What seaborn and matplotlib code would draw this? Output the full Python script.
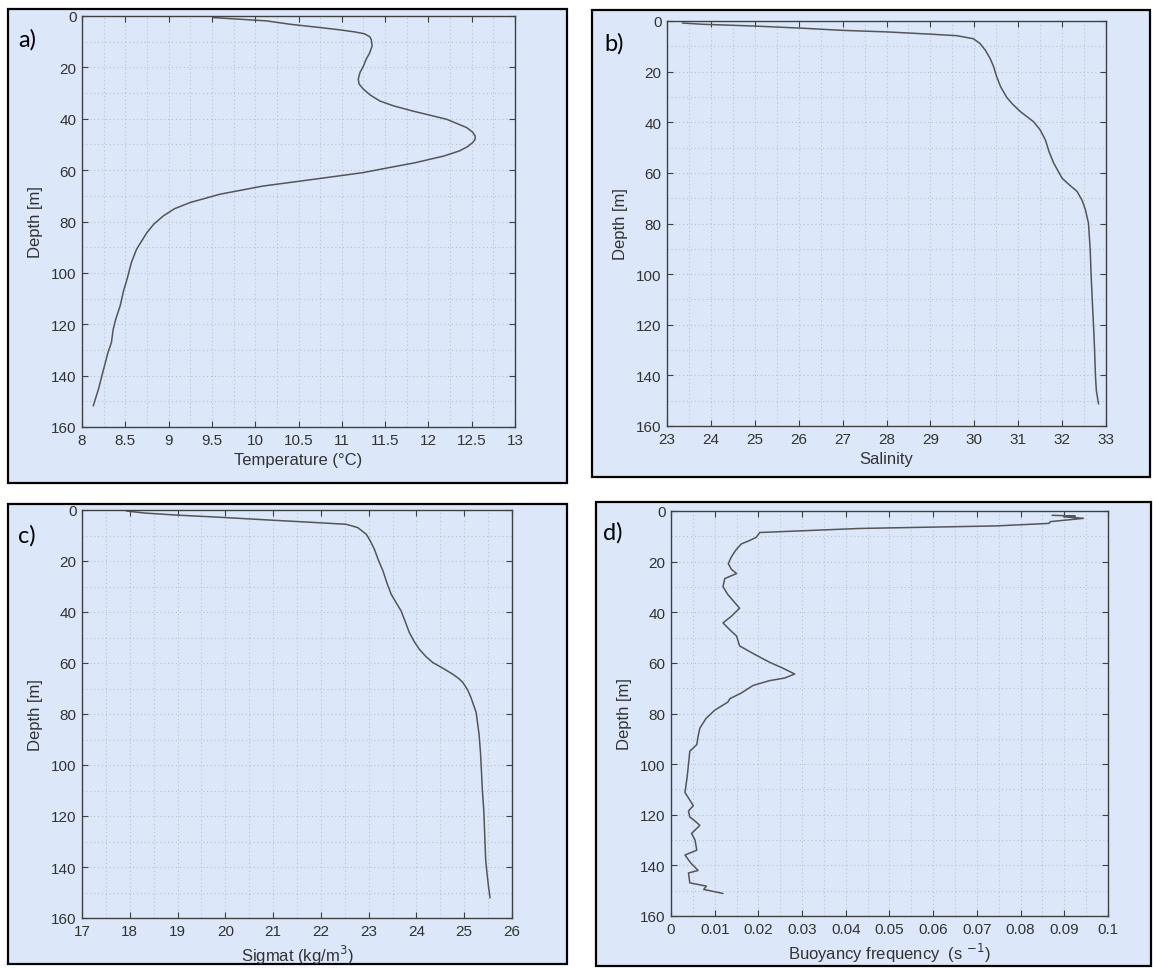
import matplotlib
matplotlib.use("Agg")
import matplotlib.pyplot as plt
import pandas as pd
import seaborn as sns
from matplotlib.patches import Rectangle
from matplotlib.ticker import MultipleLocator, FuncFormatter

# profile data (depth in m)
depth_a = [0.6, 1.9, 3.2, 4.5, 5.4, 6.2, 6.9, 8.0, 9.1, 11.7, 14.5, 16.9, 19.5, 22, 24.6,
           26.5, 28.5, 30.8, 33.1, 35, 37, 40.2, 43.4, 45.2, 46.7, 48.0, 49.3, 50.9, 52.5,
           54.5, 57.1, 59, 61, 63.6, 66.2, 69.4, 72.6, 75, 77.8, 81, 84.3, 90.8, 96,
           102.5, 107, 112.9, 118, 122, 124.5, 127.1, 131, 134.9, 140, 145.3, 148.5, 151.8]
temperature = [9.51, 10.13, 10.4, 10.75, 10.98, 11.15, 11.26, 11.32, 11.34, 11.35, 11.32,
               11.28, 11.25, 11.21, 11.19, 11.2, 11.25, 11.33, 11.44, 11.6, 11.82, 12.21,
               12.44, 12.51, 12.54, 12.54, 12.51, 12.45, 12.36, 12.18, 11.85, 11.55, 11.24,
               10.67, 10.09, 9.59, 9.25, 9.07, 8.94, 8.83, 8.75, 8.63, 8.57, 8.52, 8.48,
               8.44, 8.39, 8.36, 8.35, 8.34, 8.3, 8.27, 8.23, 8.19, 8.16, 8.13]

depth_b = [0.8, 1.3, 2.0, 2.8, 3.7, 4.3, 5.2, 5.8, 7.0, 8.9, 11.5, 14.8, 18, 22, 26, 30.2,
           33, 35.8, 39.8, 43, 47, 51.5, 56.2, 59, 62.1, 64.5, 67.3, 71, 74.5, 79.8, 85,
           90.3, 100, 107.3, 115, 121.8, 130, 140.2, 146, 151.3]
salinity = [23.35, 23.82, 25.0, 26.03, 27.0, 28.0, 29.0, 29.6, 29.98, 30.13, 30.25, 30.36,
            30.44, 30.51, 30.6, 30.74, 30.88, 31.05, 31.35, 31.5, 31.62, 31.7, 31.81, 31.9,
            32.0, 32.15, 32.34, 32.46, 32.53, 32.6, 32.62, 32.64, 32.66, 32.68, 32.7,
            32.72, 32.74, 32.76, 32.78, 32.83]

depth_c = [0.4, 1.2, 2.0, 2.7, 3.8, 5.0, 5.6, 6.9, 9.5, 12, 15.4, 19.5, 23.9, 28.5, 33,
           36.5, 39.6, 44, 48, 51.5, 54.6, 57.5, 59.8, 62, 64.4, 66, 67.6, 70.5, 73.5,
           79.4, 87.9, 95, 102.2, 110, 117.9, 128, 137.5, 143, 147.9, 152.1]
sigmat = [17.93, 18.32, 18.98, 19.74, 20.79, 21.97, 22.53, 22.77, 22.95, 23.03, 23.12,
          23.2, 23.3, 23.38, 23.47, 23.58, 23.68, 23.77, 23.85, 23.95, 24.06, 24.2, 24.34,
          24.55, 24.76, 24.88, 24.97, 25.07, 25.14, 25.25, 25.31, 25.34, 25.36, 25.38,
          25.41, 25.43, 25.45, 25.48, 25.51, 25.54]

depth_d = [1.7, 2.0, 2.3, 2.9, 4.2, 4.9, 5.9, 6.9, 8.5, 10.4, 11.8, 13, 15.5, 18.2, 20.8,
           23, 24.7, 26.7, 29.9, 33, 36, 38.4, 41.6, 44.2, 47, 49.4, 53.3, 56.5, 59.8, 62,
           64.4, 66, 67, 68.9, 72, 74.1, 75.5, 78.7, 82, 85.8, 89, 92.3, 94.9, 100.1, 105,
           111.2, 116.4, 118.5, 120.9, 122.5, 124.2, 127.4, 130, 134, 135.9, 139, 142,
           143, 146.9, 148.2, 149.5, 151.1]
buoyancy = [0.0872, 0.0925, 0.0899, 0.0944, 0.0868, 0.0865, 0.0743, 0.0431, 0.0203,
            0.0195, 0.0178, 0.0161, 0.0148, 0.0138, 0.0131, 0.0138, 0.015, 0.0123, 0.0119,
            0.013, 0.0145, 0.0157, 0.0138, 0.0119, 0.0135, 0.015, 0.0157, 0.019, 0.0226,
            0.0255, 0.0283, 0.026, 0.0226, 0.0188, 0.016, 0.0135, 0.013, 0.01, 0.008,
            0.0066, 0.0062, 0.0059, 0.0043, 0.004, 0.0037, 0.0032, 0.0051, 0.004, 0.0043,
            0.0055, 0.0066, 0.0047, 0.0055, 0.0059, 0.0032, 0.0045, 0.0062, 0.004, 0.0043,
            0.0081, 0.0075, 0.0119]

# esthetics
W, H = 1153, 970
bg = "#dce8fa"
line_color = "#555555"
text_color = "#333333"
grid_color = "#b9c0ca"

sns.set_style("ticks")
plt.rcParams["font.family"] = ["Liberation Sans Narrow", "Liberation Sans", "DejaVu Sans"]

fig = plt.figure(figsize=(W / 100, H / 100), dpi=100)
fig.patch.set_facecolor("white")


def px_rect(l, t, r, b):
    return [l / W, 1 - b / H, (r - l) / W, (b - t) / H]


panels = [
    dict(box=(8, 10, 567, 484), ax=(82, 17, 515, 428), depth=depth_a, val=temperature,
         xlim=(8, 13), major=0.5, minor=0.25, xlabel="Temperature (\u00b0C)",
         letter="a)", lpos=(18, 40)),
    dict(box=(592, 11, 1150, 478), ax=(667, 22, 1106, 427), depth=depth_b, val=salinity,
         xlim=(23, 33), major=1, minor=0.5, xlabel="Salinity",
         letter="b)", lpos=(604, 44)),
    dict(box=(8, 505, 567, 965), ax=(82, 511, 512, 919), depth=depth_c, val=sigmat,
         xlim=(17, 26), major=1, minor=0.5, xlabel="Sigmat (kg/m$^3$)",
         letter="c)", lpos=(18, 536)),
    dict(box=(596, 503, 1151, 967), ax=(671, 512, 1108, 917), depth=depth_d, val=buoyancy,
         xlim=(0, 0.1), major=0.01, minor=0.005, xlabel="Buoyancy frequency  (s $^{-1}$)",
         letter="d)", lpos=(603, 533)),
]

for p in panels:
    l, t, r, b = p["box"]
    fig.add_artist(Rectangle((l / W, 1 - b / H), (r - l) / W, (b - t) / H,
                             transform=fig.transFigure, facecolor=bg,
                             edgecolor="black", lw=1.6, zorder=-1))
    fig.text(p["lpos"][0] / W, 1 - p["lpos"][1] / H, p["letter"], fontsize=17,
             family=["Lato", "DejaVu Sans"], color="black", va="center", ha="left")

    ax = fig.add_axes(px_rect(*p["ax"]))
    ax.set_facecolor(bg)
    df = pd.DataFrame({"Depth": p["depth"], "Value": p["val"]})
    sns.lineplot(data=df, x="Value", y="Depth", orient="y", sort=False, estimator=None,
                 color=line_color, lw=1.1, ax=ax)

    ax.set_xlim(*p["xlim"])
    ax.set_ylim(160, 0)
    ax.xaxis.set_major_locator(MultipleLocator(p["major"]))
    ax.xaxis.set_minor_locator(MultipleLocator(p["minor"]))
    ax.yaxis.set_major_locator(MultipleLocator(20))
    ax.yaxis.set_minor_locator(MultipleLocator(10))
    ax.xaxis.set_major_formatter(FuncFormatter(lambda v, pos: f"{v:g}"))
    ax.yaxis.set_major_formatter(FuncFormatter(lambda v, pos: f"{v:g}"))
    ax.grid(which="both", linestyle=(0, (1, 2.5)), color=grid_color, lw=0.8)
    ax.tick_params(which="major", direction="in", top=True, right=True, length=4,
                   width=0.8, color="#404040", labelsize=11, labelcolor=text_color, pad=4)
    ax.tick_params(which="minor", length=0)
    for s in ax.spines.values():
        s.set_color("#404040")
        s.set_linewidth(1.0)
    ax.set_xlabel(p["xlabel"], fontsize=12, color=text_color, labelpad=4)
    ax.set_ylabel("Depth [m]", fontsize=12, color=text_color, labelpad=6)

fig.savefig("out.png", dpi=100, facecolor="white")
